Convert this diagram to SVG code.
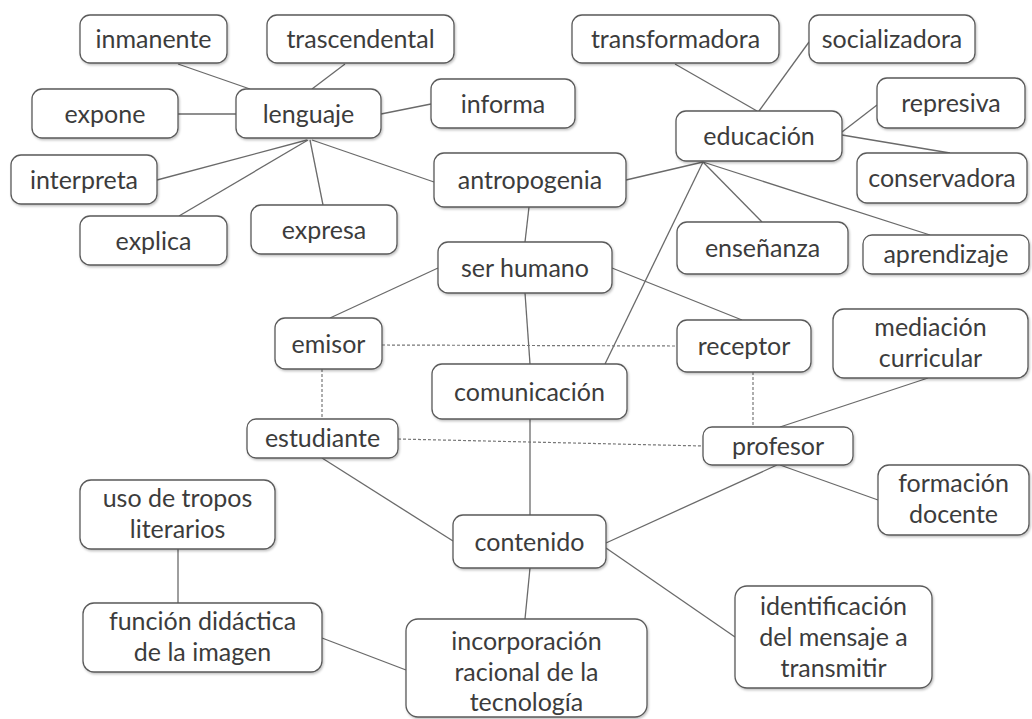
<svg xmlns="http://www.w3.org/2000/svg" width="1032" height="719" viewBox="0 0 1032 719">
<style>
.n rect{fill:#fff;stroke:#5a5a5a;stroke-width:1.3;filter:url(#sh)}
.n text{font-family:Lato,"Open Sans",sans-serif;font-size:25px;fill:#3c3c3c;text-anchor:middle}
.c line{stroke:#6a6a6a;stroke-width:1.3}
.c line.d{stroke:#777;stroke-width:1.2;stroke-dasharray:3 2}
</style>
<defs>
<filter id="sh" x="-10%" y="-10%" width="120%" height="130%">
<feDropShadow dx="1" dy="1.5" stdDeviation="1.2" flood-color="#000" flood-opacity="0.25"/>
</filter>
</defs>
<rect width="1032" height="719" fill="#fff"/>
<g class="c" id="connectors">
<line x1="178" y1="64" x2="250" y2="89"/>
<line x1="345" y1="64" x2="312" y2="89"/>
<line x1="178" y1="114" x2="236" y2="114"/>
<line x1="381" y1="114" x2="431" y2="104"/>
<line x1="307" y1="140" x2="157" y2="180"/>
<line x1="308" y1="140" x2="179" y2="216"/>
<line x1="310" y1="140" x2="323" y2="205"/>
<line x1="312" y1="140" x2="434" y2="182"/>
<line x1="626" y1="180" x2="703" y2="162"/>
<line x1="675" y1="64" x2="757" y2="111"/>
<line x1="809" y1="42" x2="759" y2="111"/>
<line x1="842" y1="132" x2="877" y2="105"/>
<line x1="842" y1="135" x2="950" y2="153"/>
<line x1="703" y1="162" x2="762" y2="222"/>
<line x1="703" y1="162" x2="930" y2="235"/>
<line x1="703" y1="162" x2="605" y2="364"/>
<line x1="529" y1="207" x2="525" y2="242"/>
<line x1="438" y1="268" x2="330" y2="318"/>
<line x1="612" y1="268" x2="742" y2="320"/>
<line x1="525" y1="293" x2="530" y2="364"/>
<line class="d" x1="382" y1="345" x2="677" y2="346"/>
<line class="d" x1="322" y1="369" x2="322" y2="419"/>
<line class="d" x1="398" y1="439" x2="703" y2="446"/>
<line class="d" x1="753" y1="372" x2="753" y2="427"/>
<line x1="928" y1="378" x2="780" y2="427"/>
<line x1="780" y1="465" x2="878" y2="500"/>
<line x1="777" y1="465" x2="606" y2="543"/>
<line x1="530" y1="419" x2="530" y2="515"/>
<line x1="322" y1="458" x2="453" y2="541"/>
<line x1="606" y1="548" x2="735" y2="637"/>
<line x1="530" y1="568" x2="525" y2="619"/>
<line x1="178" y1="549" x2="178" y2="603"/>
<line x1="322" y1="638" x2="406" y2="670"/>
</g>
<g class="n" id="inmanente"><rect x="80" y="15" width="147" height="48" rx="10"/><text x="153.5" y="47.5">inmanente</text></g>
<g class="n" id="trascendental"><rect x="267" y="15" width="187" height="48" rx="10"/><text x="360.5" y="47.5">trascendental</text></g>
<g class="n" id="expone"><rect x="32" y="89" width="146" height="49" rx="10"/><text x="105" y="122.5">expone</text></g>
<g class="n" id="lenguaje"><rect x="236" y="89" width="145" height="49" rx="10"/><text x="308.5" y="122.5">lenguaje</text></g>
<g class="n" id="informa"><rect x="431" y="79" width="144" height="49" rx="10"/><text x="503" y="112.5">informa</text></g>
<g class="n" id="interpreta"><rect x="11" y="155" width="146" height="49" rx="10"/><text x="84" y="188.5">interpreta</text></g>
<g class="n" id="antropogenia"><rect x="434" y="153" width="192" height="54" rx="10"/><text x="530" y="188.5">antropogenia</text></g>
<g class="n" id="explica"><rect x="80" y="216" width="147" height="49" rx="10"/><text x="153.5" y="249.5">explica</text></g>
<g class="n" id="expresa"><rect x="251" y="205" width="146" height="49" rx="10"/><text x="324" y="238.5">expresa</text></g>
<g class="n" id="transformadora"><rect x="572" y="15" width="207" height="48" rx="10"/><text x="675.5" y="47.5">transformadora</text></g>
<g class="n" id="socializadora"><rect x="809" y="15" width="166" height="48" rx="10"/><text x="892" y="47.5">socializadora</text></g>
<g class="n" id="represiva"><rect x="877" y="78" width="148" height="50" rx="10"/><text x="951" y="111.5">represiva</text></g>
<g class="n" id="educacion"><rect x="676" y="111" width="166" height="50" rx="10"/><text x="759" y="144.5">educación</text></g>
<g class="n" id="conservadora"><rect x="857" y="153" width="170" height="50" rx="10"/><text x="942" y="186.5">conservadora</text></g>
<g class="n" id="ensenanza"><rect x="677" y="222" width="171" height="52" rx="10"/><text x="762.5" y="256.5">enseñanza</text></g>
<g class="n" id="aprendizaje"><rect x="863" y="235" width="166" height="39" rx="9"/><text x="946" y="262.5">aprendizaje</text></g>
<g class="n" id="ser-humano"><rect x="438" y="242" width="174" height="51" rx="10"/><text x="525" y="276.5">ser humano</text></g>
<g class="n" id="emisor"><rect x="275" y="318" width="107" height="51" rx="10"/><text x="328.5" y="352.5">emisor</text></g>
<g class="n" id="comunicacion"><rect x="432" y="364" width="195" height="55" rx="10"/><text x="529.5" y="400.5">comunicación</text></g>
<g class="n" id="estudiante"><rect x="247" y="419" width="151" height="39" rx="9"/><text x="322.5" y="446.5">estudiante</text></g>
<g class="n" id="receptor"><rect x="677" y="320" width="134" height="52" rx="10"/><text x="744" y="354.5">receptor</text></g>
<g class="n" id="mediacion"><rect x="833" y="309" width="195" height="69" rx="11"/><text x="930.5" y="336">mediación</text><text x="930.5" y="367">curricular</text></g>
<g class="n" id="profesor"><rect x="703" y="427" width="150" height="38" rx="9"/><text x="778" y="454.5">profesor</text></g>
<g class="n" id="formacion"><rect x="878" y="465" width="151" height="70" rx="11"/><text x="953.5" y="492">formación</text><text x="953.5" y="523">docente</text></g>
<g class="n" id="tropos"><rect x="80" y="480" width="195" height="69" rx="11"/><text x="177.5" y="507">uso de tropos</text><text x="177.5" y="538">literarios</text></g>
<g class="n" id="funcion"><rect x="83" y="603" width="239" height="69" rx="11"/><text x="202.5" y="630">función didáctica</text><text x="202.5" y="661">de la imagen</text></g>
<g class="n" id="contenido"><rect x="453" y="515" width="153" height="53" rx="10"/><text x="529.5" y="550.5">contenido</text></g>
<g class="n" id="incorporacion"><rect x="406" y="619" width="241" height="98" rx="12"/><text x="526.5" y="650">incorporación</text><text x="526.5" y="681">racional de la</text><text x="526.5" y="711">tecnología</text></g>
<g class="n" id="identificacion"><rect x="735" y="586" width="197" height="102" rx="12"/><text x="833.5" y="615">identificación</text><text x="833.5" y="646">del mensaje a</text><text x="833.5" y="677">transmitir</text></g>
</svg>
